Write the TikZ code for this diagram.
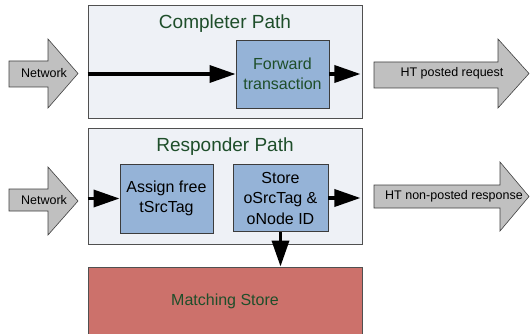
\documentclass[tikz,border=0pt]{standalone}
\usepackage{fontspec}
\setmainfont{Liberation Sans}
\usepackage{tikz}
\usetikzlibrary{arrows.meta}

\definecolor{pathfill}{RGB}{238,241,246}
\definecolor{pathline}{RGB}{80,80,80}
\definecolor{stagefill}{RGB}{149,179,215}
\definecolor{stageline}{RGB}{60,60,60}
\definecolor{storefill}{RGB}{204,113,107}
\definecolor{titlegreen}{RGB}{30,78,42}
\definecolor{arrowgray}{RGB}{192,192,192}

\begin{document}
\begin{tikzpicture}[x=1pt,y=-1pt,
  pathbox/.style={draw=pathline,fill=pathfill,line width=0.9pt,minimum width=274pt,inner sep=0pt},
  stagebox/.style={draw=stageline,fill=stagefill,line width=0.9pt,inner sep=0pt,align=center,
    font=\fontsize{16}{20.5}\selectfont},
  pathtitle/.style={anchor=base,text=titlegreen,font=\fontsize{19}{22}\selectfont},
  flow/.style={line width=3.5pt,-{Triangle[length=26pt,width=17pt]}},
  blockarrow/.style={draw=black!75,fill=arrowgray,line width=0.6pt},
  blocklabel/.style={font=\fontsize{12.5}{14}\selectfont,inner sep=0pt}]

\useasboundingbox (0,0) rectangle (530,334);
\clip (0,0) rectangle (530,334);

% completer path
\node[pathbox,minimum height=113pt] (cpath) at (225,61.5) {};
\node[pathtitle] (ctitle) at (225,29) {Completer Path};
\node[stagebox,minimum width=93pt,minimum height=68pt,text=titlegreen] (fwd) at (282.5,74) {Forward\\transaction};

% responder path
\node[pathbox,minimum height=116pt] (rpath) at (225,186) {};
\node[pathtitle] (rtitle) at (225,152) {Responder Path};
\node[stagebox,minimum width=93pt,minimum height=69pt] (assign) at (166.5,198.5) {Assign free\\tSrcTag};
\node[stagebox,minimum width=95pt,minimum height=67pt] (store) at (280.5,198) {Store\\oSrcTag \&\\oNode ID};

% matching store
\node[draw=pathline,fill=storefill,line width=0.9pt,minimum width=274pt,minimum height=68pt,
  text=titlegreen,font=\fontsize{16}{19}\selectfont] (match) at (225,301) {Matching Store};

% block arrows
\filldraw[blockarrow] (9,61) -- (48,61) -- (48,39) -- (78,73.5) -- (48,108) -- (48,87) -- (9,87) -- cycle;
\node[blocklabel] (cnet) at (44,73) {Network};
\filldraw[blockarrow] (9,189) -- (48,189) -- (48,167) -- (78,201) -- (48,235) -- (48,211) -- (9,211) -- cycle;
\node[blocklabel] (rnet) at (44,200) {Network};
\filldraw[blockarrow] (374,62) -- (498,62) -- (498,39) -- (529,73.5) -- (498,108) -- (498,88) -- (374,88) -- cycle;
\node[blocklabel] (posted) at (452,73) {HT posted request};
\filldraw[blockarrow] (374,185) -- (500,185) -- (500,162) -- (529,196.5) -- (500,231) -- (500,208) -- (374,208) -- cycle;
\node[blocklabel] (nonposted) at (454,196) {HT non-posted response};

% connectors
\draw[flow] (cpath.west |- fwd) -- (fwd);
\draw[flow] (fwd) -- ([xshift=-2pt]cpath.east |- fwd);
\draw[flow] (rpath.west |- assign) -- (assign);
\draw[flow] (store) -- ([xshift=-2pt]rpath.east |- store);
\draw[flow] (store) -- (store |- match.north);

\end{tikzpicture}
\end{document}
